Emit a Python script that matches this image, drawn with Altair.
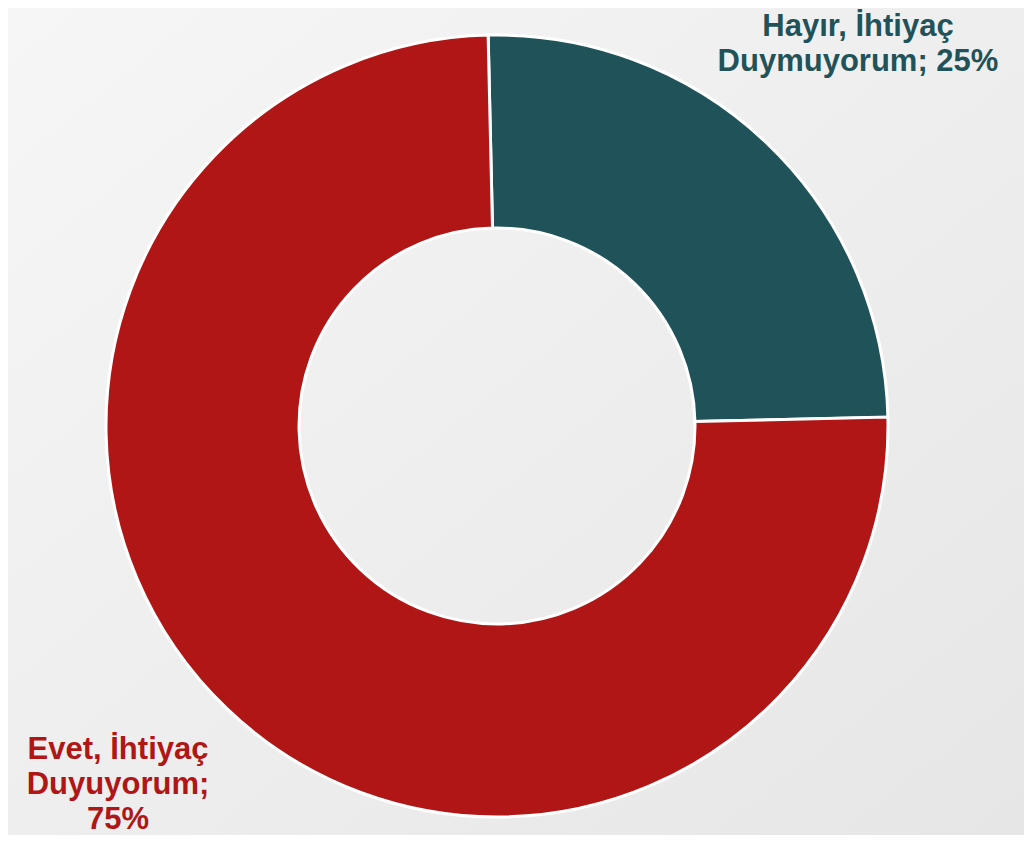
import math
import altair as alt
import pandas as pd

categories = ["Hayır, İhtiyaç Duymuyorum", "Evet, İhtiyaç Duyuyorum"]
values = [25, 75]
label_lines = [["Hayır, İhtiyaç", "Duymuyorum; 25%"], ["Evet, İhtiyaç", "Duyuyorum;", "75%"]]
colors = ["#1f5359", "#b01616"]

W, H = 1016, 827
CX, CY = 489, 418
R_OUT, R_IN = 391, 198
START = -0.0227

df = pd.DataFrame({"cat": categories, "value": values, "idx": [0, 1]})

bg = alt.Chart(pd.DataFrame({"a": [0]})).mark_rect(
    fill=alt.Gradient(
        gradient="linear",
        stops=[alt.GradientStop(color="#f6f6f6", offset=0), alt.GradientStop(color="#e6e6e6", offset=1)],
        x1=0, y1=0, x2=1, y2=1,
    ),
).encode(x=alt.value(0), x2=alt.value(W), y=alt.value(0), y2=alt.value(H))

arc = alt.Chart(df).mark_arc(
    outerRadius=R_OUT, innerRadius=R_IN, stroke="white", strokeWidth=3
).encode(
    theta=alt.Theta("value:Q", stack=True, scale=alt.Scale(range=[START, START + 2 * math.pi])),
    order=alt.Order("idx:Q"),
    color=alt.Color("cat:N", scale=alt.Scale(domain=categories, range=colors), legend=None),
    x=alt.value(CX),
    y=alt.value(CY),
)

lab1 = alt.Chart(pd.DataFrame({"t": [label_lines[0]]})).mark_text(
    font="Liberation Sans", fontWeight="bold", fontSize=31, color=colors[0],
    align="center", baseline="alphabetic", lineHeight=35,
).encode(text="t", x=alt.value(850), y=alt.value(28))

lab2 = alt.Chart(pd.DataFrame({"t": [label_lines[1]]})).mark_text(
    font="Liberation Sans", fontWeight="bold", fontSize=31, color=colors[1],
    align="center", baseline="alphabetic", lineHeight=35,
).encode(text="t", x=alt.value(110), y=alt.value(751))

chart = alt.layer(bg, arc, lab1, lab2).properties(
    width=W, height=H,
    autosize=alt.AutoSizeParams(type="fit", contains="padding"),
    padding=0,
).configure_view(stroke=None).configure(background="#efefef")

chart.save("out.html", embed_options={"renderer": "svg", "actions": False})
